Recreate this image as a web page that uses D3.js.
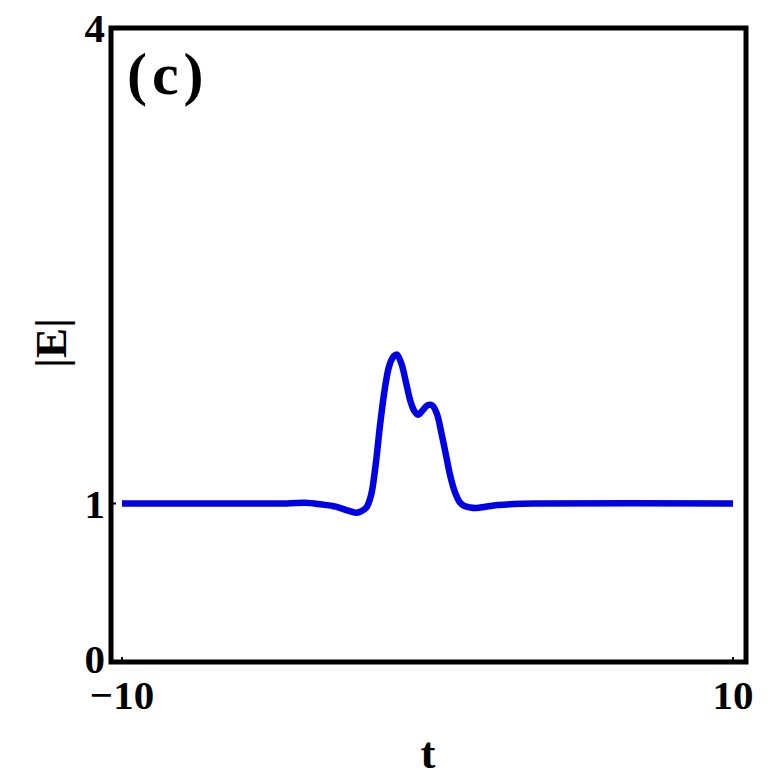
<!DOCTYPE html>
<html>
<head>
<meta charset="utf-8">
<script src="https://cdn.jsdelivr.net/npm/d3@7"></script>
<style>
  body { margin: 0; background: #fff; }
  svg text { font-family: "Liberation Serif", "Times New Roman", serif; font-weight: bold; fill: #000; }
</style>
</head>
<body>
<div id="chart"></div>
<script>
// values
var tVals = [-10, -6, -4.6, -4.0, -3.5, -3.0, -2.6, -2.35, -2.2, -2.0, -1.85, -1.7, -1.55, -1.4, -1.25, -1.1, -1.0,
             -0.85, -0.7, -0.55, -0.42, -0.3, -0.15, 0.0, 0.15, 0.3, 0.45, 0.6, 0.75, 0.9, 1.05, 1.2, 1.4,
             1.6, 1.9, 2.3, 2.8, 3.5, 10];
var eVals = [1, 1, 1.0, 1.005, 0.995, 0.98, 0.955, 0.942, 0.948, 0.975, 1.05, 1.24, 1.5, 1.72, 1.87, 1.93, 1.94,
             1.88, 1.76, 1.64, 1.58, 1.56, 1.59, 1.62, 1.62, 1.57, 1.45, 1.31, 1.17, 1.07, 1.01, 0.985, 0.975,
             0.972, 0.98, 0.99, 0.997, 1.0, 1];
var xTicks = [-10, 10];
var xTickLabels = ["\u221210", "10"];
var yTicks = [0, 1, 4];
var yTickLabels = ["0", "1", "4"];

var width = 780, height = 781;
var svg = d3.select("#chart").append("svg")
    .attr("width", width)
    .attr("height", height);

// frame box
var frame = {left: 111, right: 746, top: 28, bottom: 662};

var x = d3.scaleLinear().domain([-10, 10]).range([122, 733]);
var y = d3.scaleLinear().domain([0, 4]).range([662, 28]);

// small inward ticks
svg.selectAll("line.xtick")
    .data(xTicks)
    .enter()
    .append("line")
    .attr("x1", function(d) { return x(d); })
    .attr("x2", function(d) { return x(d); })
    .attr("y1", frame.bottom)
    .attr("y2", frame.bottom - 5)
    .attr("stroke", "#000")
    .attr("stroke-width", 2);

svg.selectAll("line.ytick")
    .data(yTicks)
    .enter()
    .append("line")
    .attr("x1", frame.left)
    .attr("x2", frame.left + 5)
    .attr("y1", function(d) { return y(d); })
    .attr("y2", function(d) { return y(d); })
    .attr("stroke", "#000")
    .attr("stroke-width", 2);

// the curve
var pts = tVals.map(function(t, i) { return [t, eVals[i]]; });
var line = d3.line()
    .x(function(d) { return x(d[0]); })
    .y(function(d) { return y(d[1]); })
    .curve(d3.curveCatmullRom.alpha(0.5));

svg.append("path")
    .datum(pts)
    .attr("d", line)
    .attr("fill", "none")
    .attr("stroke", "#0000e6")
    .attr("stroke-width", 6.5)
    .attr("stroke-linecap", "butt");

svg.append("rect")
    .attr("x", frame.left)
    .attr("y", frame.top)
    .attr("width", frame.right - frame.left)
    .attr("height", frame.bottom - frame.top)
    .attr("fill", "none")
    .attr("stroke", "#000")
    .attr("stroke-width", 5);

// tick labels
svg.selectAll("text.xlab")
    .data(xTicks)
    .enter()
    .append("text")
    .attr("x", function(d) { return x(d); })
    .attr("y", 709)
    .attr("text-anchor", "middle")
    .style("font-size", "41px")
    .text(function(d, i) { return xTickLabels[i]; });

svg.selectAll("text.ylab")
    .data(yTicks)
    .enter()
    .append("text")
    .attr("x", 105)
    .attr("y", function(d) { return y(d) + (d === 0 ? 11 : 14); })
    .attr("text-anchor", "end")
    .style("font-size", "41px")
    .text(function(d, i) { return yTickLabels[i]; });

// axis titles
svg.append("text")
    .attr("x", 428)
    .attr("y", 768)
    .attr("text-anchor", "middle")
    .style("font-size", "45px")
    .text("t");

svg.append("text")
    .attr("transform", "translate(66,343) rotate(-90)")
    .attr("text-anchor", "middle")
    .style("font-size", "45px")
    .text("|E|");

// panel label
svg.append("text")
    .attr("x", 127)
    .attr("y", 94)
    .style("font-size", "60px")
    .style("letter-spacing", "5px")
    .text("(c)");
</script>
</body>
</html>
